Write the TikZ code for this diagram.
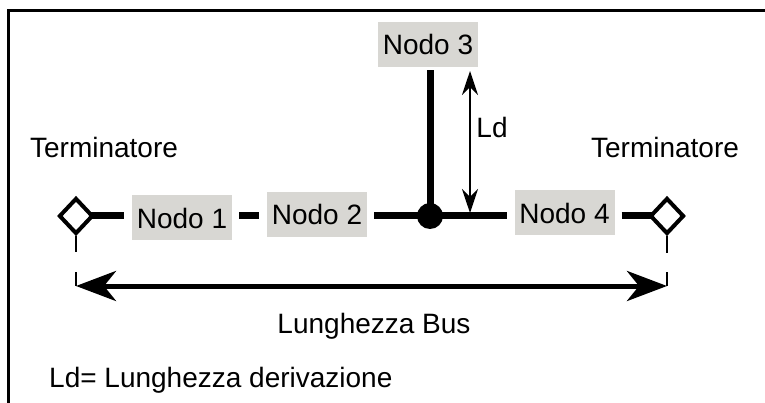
\documentclass[tikz,border=0pt]{standalone}
\usepackage{fontspec}
\setmainfont{Liberation Sans}
\usetikzlibrary{shapes.geometric,arrows.meta}
\definecolor{boxgray}{RGB}{216,215,211}
\begin{document}
\begin{tikzpicture}[x=1pt,y=-1pt,
  lbl/.style={font=\fontsize{28}{33}\selectfont, inner sep=0pt},
  nodobox/.style={lbl, fill=boxgray, minimum width=100pt, minimum height=45pt},
  term/.style={draw, diamond, line width=4pt, minimum width=34pt, minimum height=36pt, inner sep=0pt, fill=white},
  bus/.style={line width=7pt},
  ext/.style={line width=1.5pt},
  busarrow/.style={line width=5pt, {Stealth[length=40pt,width=30pt,inset=12pt]}-{Stealth[length=40pt,width=30pt,inset=12pt]}},
  ldarrow/.style={line width=2pt, {Stealth[length=24pt,width=16pt,inset=8pt]}-{Stealth[length=24pt,width=16pt,inset=8pt]}}
]
\useasboundingbox (0,0) rectangle (765,403);
% frame
\draw[line width=3pt] (8.5,403) -- (8.5,10.5) -- (765,10.5);

% nodes
\node[nodobox] (n1) at (182,218) {Nodo 1};
\node[nodobox] (n2) at (317,214.5) {Nodo 2};
\node[nodobox] (n3) at (428,44.5) {Nodo 3};
\node[nodobox] (n4) at (564.5,213) {Nodo 4};
\node[lbl] (t1) at (104,147) {Terminatore};
\node[lbl] (t2) at (665,147) {Terminatore};
\node[lbl] (ld) at (492,127) {Ld};
\node[lbl] (lb) at (374,326) {Lunghezza Bus};
\node[lbl, anchor=west] (leg) at (49,380) {Ld= Lunghezza derivazione};

\coordinate (j) at (430,216);
\coordinate (d1c) at (76,216);
\coordinate (d2c) at (667,216);

% bus segments
\draw[bus, shorten >=8pt] (d1c) -- (d1c -| n1.west);
\draw[bus, shorten <=7pt, shorten >=8pt] (j -| n1.east) -- (j -| n2.west);
\draw[bus, shorten <=7pt] (j -| n2.east) -- (j);
\draw[bus, shorten >=7pt] (j) -- (j -| n4.west);
\draw[bus, shorten <=7pt] (j -| n4.east) -- (d2c);
% branch
\draw[bus, shorten <=3pt] (n3.south -| j) -- (j);
\fill (j) circle (13pt);

% terminators
\node[term] (d1) at (d1c) {};
\node[term] (d2) at (d2c) {};

% extension lines
\coordinate (b1) at (76,286);
\coordinate (b2) at (667,286);
\draw[ext] (d1.south) -- (76,252);
\draw[ext] (76,272) -- (b1);
\draw[ext] (d2.south) -- (667,253);
\draw[ext] (667,272) -- (b2);

% bus length arrow
\draw[busarrow] (b1) -- (b2);

% Ld arrow
\coordinate (la) at (470,71);
\coordinate (lbt) at (470,213);
\draw[ldarrow] (la) -- (lbt);
\end{tikzpicture}
\end{document}
